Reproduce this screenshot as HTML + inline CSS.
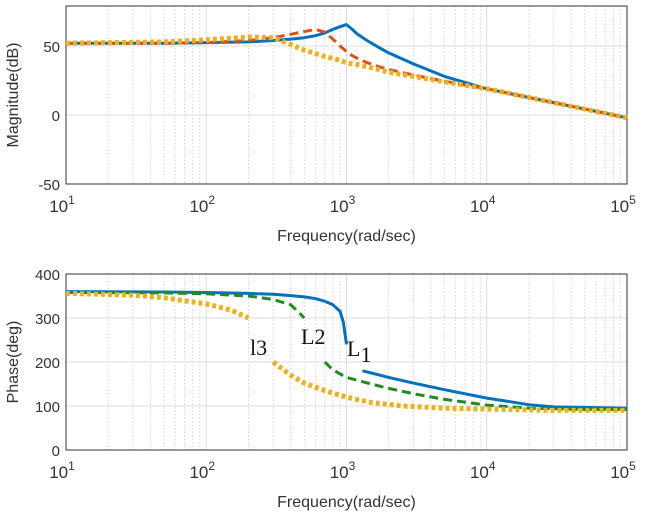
<!DOCTYPE html>
<html><head><meta charset="utf-8"><style>
html,body{margin:0;padding:0;background:#fff;}
svg{display:block;font-family:"Liberation Sans",sans-serif;}
</style></head><body>
<svg id="c" width="645" height="516" viewBox="0 0 645 516"></svg>
<script>
const xTicks=[1,2,3,4,5];
const magTicks=[50,0,-50];
const phTicks=[400,300,200,100,0];
const magFreq=[10,50,100,200,300,400,500,600,700,800,900,1000,1100,1200,1400,1700,2000,3000,5000,10000,30000,100000];
const magL1=[52,52,52.5,53,54,55,56,57.5,59.5,62,64,65.5,62,58.5,54,49,45,37,28,19,9,-2];
const magL2=[52,52,52.5,54,56,58.5,60.5,62,60,55,50,46,43,41,38,35,33,29,24.5,19,9,-2];
const magL3=[52,53,54.5,56.5,56,51,47,44.5,42.5,41,39.5,38,37,36.5,35,33,31,28,24,19,9,-2];
const phFreqA=[10,50,100,200,300,400,500,600,700,800,900,950,1000,1200,1300,2000,3000,5000,10000,20000,30000,100000];
const phL1=[360,359,358,356,354,351,348,344,338,330,315,290,240,null,180,165,152,137,118,103,98,95];
const phFreqB=[10,50,100,200,300,400,450,500,600,700,800,1000,1500,2000,3000,5000,10000,20000,50000,100000];
const phL2=[358,357,355,350,342,330,315,300,null,200,182,165,150,140,128,115,102,95,92,92];
const phFreqC=[10,30,50,100,150,200,250,300,400,500,700,1000,1500,2500,5000,10000,30000,100000];
const phL3=[356,352,346,332,318,300,null,200,170,152,135,120,108,100,95,93,90,90];
const NS='http://www.w3.org/2000/svg';
const svg=document.getElementById('c');
const X0=66,X1=627;
const xs=f=>X0+(Math.log10(f)-1)/4*(X1-X0);
const yMag=v=>115-(v)*(69/50);
const yPh=v=>450-v*0.44;
function el(t,a,p){const e=document.createElementNS(NS,t);for(const k in a)e.setAttribute(k,a[k]);(p||svg).appendChild(e);return e;}
function axes(top,bot,ticks,ysc,ylabel,name){
  const g=el('g',{});
  
  
  el('rect',{x:X0,y:top,width:X1-X0,height:bot-top,fill:'#fff'},g);
  for(let d=1;d<=4;d++)for(let m=2;m<=9;m++){const x=xs(Math.pow(10,d)*m);el('line',{x1:x,x2:x,y1:top,y2:bot,stroke:'#ccc','stroke-width':0.8,'stroke-dasharray':'1.5,2'},g);}
  xTicks.forEach(p=>{const x=xs(Math.pow(10,p));el('line',{x1:x,x2:x,y1:top,y2:bot,stroke:'#ddd','stroke-width':1},g);
    const t=el('text',{x:x-4,y:bot+28,'font-size':17,fill:'#333','text-anchor':'middle'},g);t.textContent='10';
    const s=el('tspan',{dy:-8,'font-size':12},t);s.textContent=p;});
  ticks.forEach(v=>{const y=ysc(v);el('line',{x1:X0,x2:X1,y1:y,y2:y,stroke:'#ddd','stroke-width':1},g);
    const t=el('text',{x:X0-6,y:y+6,'font-size':15,fill:'#333','text-anchor':'end'},g);t.textContent=v;});
  el('rect',{x:X0,y:top,width:X1-X0,height:bot-top,fill:'none',stroke:'#333','stroke-width':1},g);
  const yl=el('text',{transform:`translate(18,${(top+bot)/2}) rotate(-90)`,'font-size':16,fill:'#333','text-anchor':'middle'},g);yl.textContent=ylabel;
  const xl=el('text',{x:(X0+X1)/2,y:bot+57,'font-size':16,fill:'#333','text-anchor':'middle'},g);xl.textContent='Frequency(rad/sec)';
}
axes(6,184,magTicks,yMag,'Magnitude(dB)','magnitude-axes');
axes(274,450,phTicks,yPh,'Phase(deg)','phase-axes');
function series(fr,vals,ysc,color,dash,w,name){
  let d='',pen=false;
  fr.forEach((f,i)=>{const v=vals[i];if(v===null){pen=false;return;}d+=(pen?'L':'M')+xs(f).toFixed(1)+','+ysc(v).toFixed(1);pen=true;});
  const p=el('path',{d:d,fill:'none',stroke:color,'stroke-width':w,'stroke-dasharray':dash,'stroke-linejoin':'round'});
  
  
}
series(magFreq,magL1,yMag,'#0072BD','none',3,'mag-l1-line');
series(magFreq,magL2,yMag,'#D95319','9,5',3,'mag-l2-line');
series(magFreq,magL3,yMag,'#EDB120','4,3',5,'mag-l3-line');
series(phFreqA,phL1,yPh,'#0072BD','none',3,'phase-l1-line');
series(phFreqB,phL2,yPh,'#1E8C1E','9,5',3,'phase-l2-line');
series(phFreqC,phL3,yPh,'#EDB120','4,3',5,'phase-l3-line');
</script>
<div style="position:absolute;left:0;top:0;width:645px;height:516px;pointer-events:none;font-family:'Liberation Serif',serif;font-size:22px;color:#111;">
<span style="position:absolute;left:250px;top:335px;">l3</span>
<span style="position:absolute;left:301px;top:324px;">L2</span>
<span style="position:absolute;left:347px;top:336px;">L<span style="font-size:22px;position:relative;top:6px;">1</span></span>
</div>
</body></html>
